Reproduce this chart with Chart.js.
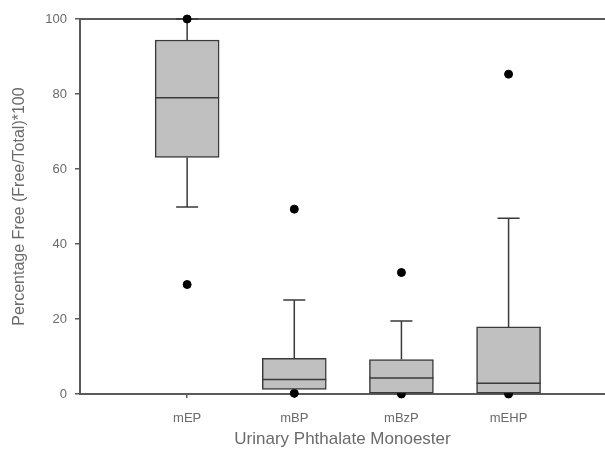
<!doctype html>
<html lang="en">
<head>
  <meta charset="utf-8">
  <title>Percentage Free by Phthalate Monoester</title>
  <script src="https://cdn.jsdelivr.net/npm/chart.js"></script>
  <style>
    html, body { margin: 0; padding: 0; background: #fff; overflow: hidden; }
    canvas { display: block; }
  </style>
</head>
<body>
<canvas id="box-chart" width="605" height="454"></canvas>

<script>
// values
var categories = ['mEP', 'mBP', 'mBzP', 'mEHP'];
var whiskerLow = [49.9, null, null, null];
var q1 = [63.1, 1.25, 0, 0];
var median = [79.0, 3.9, 4.3, 2.9];
var q3 = [94.4, 9.5, 9.2, 17.9];
var whiskerHigh = [100, 25.1, 19.5, 46.9];
var outliers = [[100, 29.2], [49.3, 0.2], [32.4, 0], [85.3, 0]];
var yTicks = [0, 20, 40, 60, 80, 100];

var boxData = [];
for (var i = 0; i < categories.length; i++) {
  boxData.push({ x: i + 1, y: [q1[i], q3[i]] });
}
var dotData = [];
for (var i = 0; i < outliers.length; i++) {
  for (var j = 0; j < outliers[i].length; j++) {
    dotData.push({ x: i + 1, y: outliers[i][j] });
  }
}

var lineColor = '#3a3a3a';
var axisColor = '#5a5a5a';
var textColor = '#6a6a6a';

// whiskers, caps and medians, placed with the chart's scales
var boxLines = {
  id: 'boxLines',
  beforeDatasetsDraw: function(chart) {
    var ctx = chart.ctx, xs = chart.scales.x, ys = chart.scales.y;
    ctx.save();
    ctx.strokeStyle = lineColor;
    ctx.lineWidth = 1.5;
    for (var i = 0; i < categories.length; i++) {
      var cx = xs.getPixelForValue(i + 1);
      var capHalf = 11;
      var ends = [[q3[i], whiskerHigh[i]], [q1[i], whiskerLow[i]]];
      for (var k = 0; k < ends.length; k++) {
        if (ends[k][1] === null) continue;
        var a = ys.getPixelForValue(ends[k][0]);
        var b = ys.getPixelForValue(ends[k][1]);
        ctx.beginPath();
        ctx.moveTo(cx, a);
        ctx.lineTo(cx, b);
        ctx.moveTo(cx - capHalf, b);
        ctx.lineTo(cx + capHalf, b);
        ctx.stroke();
      }
    }
    ctx.restore();
  },
  afterDatasetsDraw: function(chart) {
    var ctx = chart.ctx, xs = chart.scales.x, ys = chart.scales.y;
    var half = chart.getDatasetMeta(0).data[0].width / 2;
    ctx.save();
    ctx.strokeStyle = lineColor;
    ctx.lineWidth = 1.5;
    for (var i = 0; i < categories.length; i++) {
      var cx = xs.getPixelForValue(i + 1);
      var my = ys.getPixelForValue(median[i]);
      ctx.beginPath();
      ctx.moveTo(cx - half, my);
      ctx.lineTo(cx + half, my);
      ctx.stroke();
    }
    ctx.restore();
  }
};

function noSidePad(s) {
  s.paddingLeft = 0;
  s.paddingRight = 0;
}

new Chart(document.getElementById('box-chart'), {
  type: 'bar',
  data: {
    datasets: [{
      type: 'bar',
      data: boxData,
      backgroundColor: '#c0c0c0',
      borderColor: lineColor,
      borderWidth: 1.5,
      borderSkipped: false,
      barThickness: 64,
      order: 1
    }, {
      type: 'scatter',
      data: dotData,
      backgroundColor: '#000',
      borderColor: '#000',
      pointRadius: 4,
      clip: false,
      order: 2
    }]
  },
  options: {
    responsive: false,
    animation: false,
    // the dots would otherwise reserve space round the plot
    layout: { padding: 0, autoPadding: false },
    plugins: {
      legend: { display: false },
      tooltip: { enabled: false }
    },
    scales: {
      x: {
        type: 'linear',
        position: 'bottom',
        offset: false,
        min: 0,
        max: 4.9,
        afterBuildTicks: function(s) {
          s.ticks = [1, 2, 3, 4].map(function(v) { return { value: v }; });
        },
        afterFit: function(s) { s.height = 60; noSidePad(s); },
        ticks: {
          color: textColor,
          font: { family: 'Liberation Sans', size: 13 },
          padding: 13,
          maxRotation: 0,
          callback: function(v) { return categories[v - 1]; }
        },
        grid: { offset: false, drawOnChartArea: false, drawTicks: true, tickLength: 4, color: axisColor, lineWidth: 1.5 },
        border: { display: true, color: axisColor, width: 2 },
        title: {
          display: true,
          text: 'Urinary Phthalate Monoester',
          color: textColor,
          font: { family: 'Liberation Sans', size: 17 },
          padding: { top: 0, bottom: 4 }
        }
      },
      xTop: {
        type: 'linear',
        position: 'top',
        offset: false,
        min: 0,
        max: 4.9,
        afterFit: function(s) { s.height = 19; noSidePad(s); },
        ticks: { display: false },
        grid: { display: false },
        border: { display: true, color: axisColor, width: 2 }
      },
      y: {
        min: 0,
        max: 100,
        afterBuildTicks: function(s) {
          s.ticks = yTicks.map(function(v) { return { value: v }; });
        },
        afterFit: function(s) { s.width = 80; },
        ticks: {
          color: textColor,
          font: { family: 'Liberation Sans', size: 13 },
          padding: 8
        },
        grid: { drawOnChartArea: false, drawTicks: true, tickLength: 5, color: axisColor, lineWidth: 1.5 },
        border: { display: true, color: axisColor, width: 2 },
        title: {
          display: true,
          text: 'Percentage Free (Free/Total)*100',
          color: textColor,
          font: { family: 'Liberation Sans', size: 16 },
          padding: { top: 10, bottom: 0 }
        }
      }
    }
  },
  plugins: [boxLines]
});
</script>
</body>
</html>
